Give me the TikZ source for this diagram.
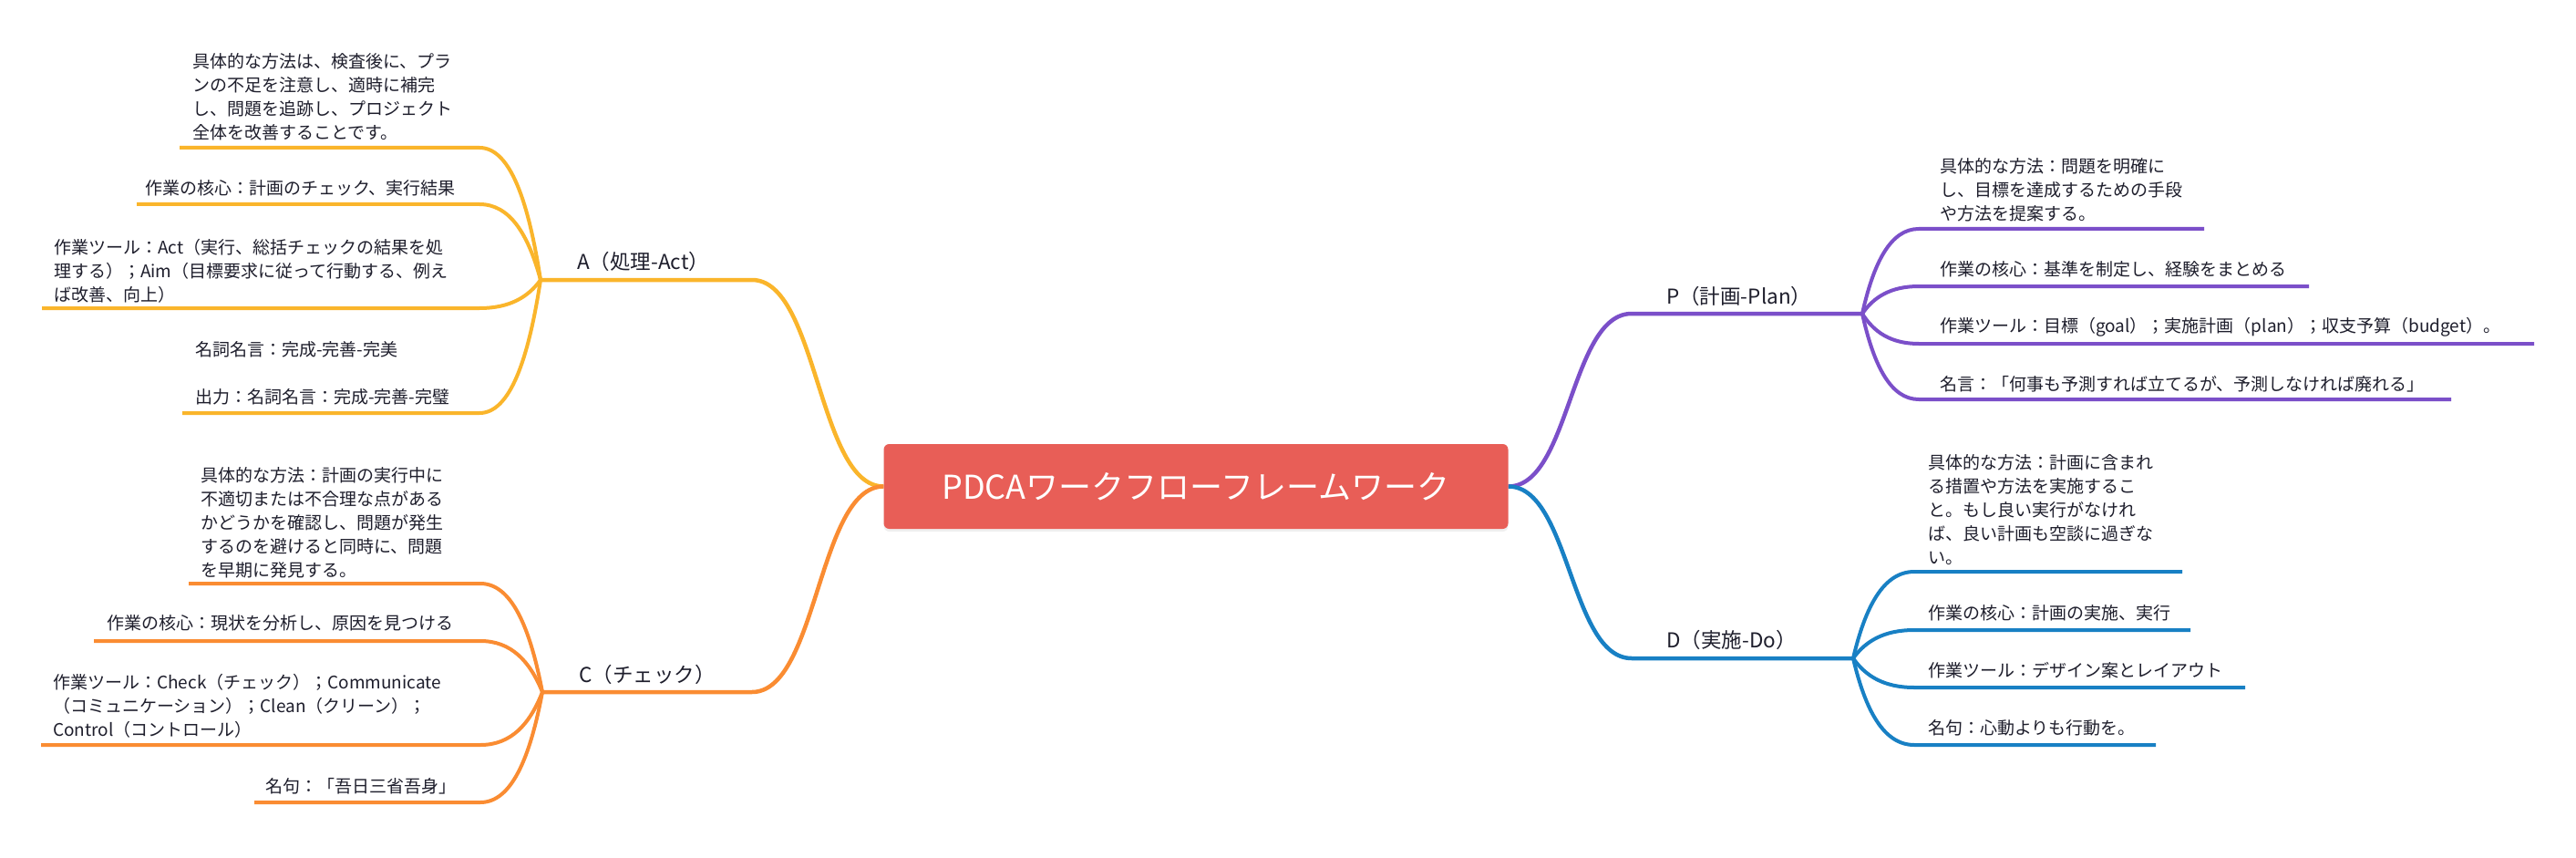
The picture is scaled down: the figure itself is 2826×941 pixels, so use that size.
\documentclass[tikz,border=0pt]{standalone}
\usepackage{fontspec}
\setmainfont{Noto Sans CJK JP}
\usetikzlibrary{calc,shadows}
\definecolor{cP}{HTML}{7B4FC9}
\definecolor{cD}{HTML}{1880C4}
\definecolor{cA}{HTML}{FAB52B}
\definecolor{cC}{HTML}{FA8C32}
\definecolor{cBox}{HTML}{E85E57}
\definecolor{cTxt}{HTML}{1E1E2C}
\pgfdeclarelayer{back}
\pgfdeclarelayer{bg}
\pgfsetlayers{back,bg,main}
\newcommand\twig[4]{\draw[#1] let \p1=(#2), \p2=(#3) in (#2) .. controls (\x1+0.2*\x2-0.2*\x1, \y1+0.6*\y2-0.6*\y1) and (0.5*\x1+0.5*\x2, \y2) .. (#3) -- (#4);}
\newcommand\limb[4]{\draw[#1] let \p1=(#2), \p2=(#3) in (#2) .. controls (0.5*\x1+0.5*\x2, \y1) and (0.5*\x1+0.5*\x2, \y2) .. (#3) -- (#4);}
\tikzset{
  ptxt/.style={font=\fontsize{19}{26}\selectfont, text=cTxt, align=left, inner sep=0pt, anchor=west},
  ltxt/.style={font=\fontsize{22.5}{28}\selectfont, text=cTxt, inner sep=0pt, anchor=west},
  mainline/.style={line width=4.5pt},
  subline/.style={line width=4pt},
  rootbox/.style={fill=cBox, rounded corners=6pt, minimum width=685pt, minimum height=93pt,
    text=white, font=\fontsize{36}{42}\selectfont, inner sep=0pt,
    drop shadow={opacity=0.12, shadow xshift=0pt, shadow yshift=-3pt}},
}
\begin{document}
\begin{tikzpicture}[x=1pt,y=-1pt]
\begin{pgfonlayer}{back}
\fill[white] (0,0) rectangle (2826,941);
\end{pgfonlayer}
\useasboundingbox (0,0) rectangle (2826,941);

\node[rootbox] (root) at (1312,533.5) {PDCAワークフローフレームワーク};

% branch coordinates
\coordinate (ps) at (1790,344); \coordinate (pf) at (2043,344);
\coordinate (ds) at (1790,722); \coordinate (df) at (2033,722);
\coordinate (as) at (825,307);  \coordinate (af) at (593,307);
\coordinate (cs) at (825,759);  \coordinate (cf) at (595,759);

% labels
\node[ltxt] (P) at (1828,325) {P（計画-Plan）};
\node[ltxt] (D) at (1828,702) {D（実施-Do）};
\node[ltxt] (A) at (633,287) {A（処理-Act）};
\node[ltxt] (C) at (635,740) {C（チェック）};

% P children
\node[ptxt] (p1) at (2128,208) {具体的な方法：問題を明確に\\し、目標を達成するための手段\\や方法を提案する。};
\node[ptxt] (p2) at (2128,295) {作業の核心：基準を制定し、経験をまとめる};
\node[ptxt] (p3) at (2128,359) {作業ツール：目標（goal）；実施計画（plan）；収支予算（budget）。};
\node[ptxt] (p4) at (2128,421) {名言：「何事も予測すれば立てるが、予測しなければ廃れる」};
\coordinate (p1s) at (2105,251); \coordinate (p1e) at (2418,251);
\coordinate (p2s) at (2105,314); \coordinate (p2e) at (2533,314);
\coordinate (p3s) at (2105,377); \coordinate (p3e) at (2780,377);
\coordinate (p4s) at (2105,438); \coordinate (p4e) at (2689,438);

% D children
\node[ptxt] (d1) at (2115,559.5) {具体的な方法：計画に含まれ\\る措置や方法を実施するこ\\と。もし良い実行がなけれ\\ば、良い計画も空談に過ぎな\\い。};
\node[ptxt] (d2) at (2115,672) {作業の核心：計画の実施、実行};
\node[ptxt] (d3) at (2115,735) {作業ツール：デザイン案とレイアウト};
\node[ptxt] (d4) at (2115,798) {名句：心動よりも行動を。};
\coordinate (d1s) at (2100,627); \coordinate (d1e) at (2394,627);
\coordinate (d2s) at (2100,691); \coordinate (d2e) at (2403,691);
\coordinate (d3s) at (2100,754); \coordinate (d3e) at (2463,754);
\coordinate (d4s) at (2100,817); \coordinate (d4e) at (2365,817);

% A children
\node[ptxt] (a1) at (211,106) {具体的な方法は、検査後に、プラ\\ンの不足を注意し、適時に補完\\し、問題を追跡し、プロジェクト\\全体を改善することです。};
\node[ptxt] (a2) at (159,206) {作業の核心：計画のチェック、実行結果};
\node[ptxt] (a3) at (59,297) {作業ツール：Act（実行、総括チェックの結果を処\\理する）；Aim（目標要求に従って行動する、例え\\ば改善、向上）};
\node[ptxt] (a4) at (214,409) {名詞名言：完成-完善-完美\\[26pt]出力：名詞名言：完成-完善-完璧};
\coordinate (a1s) at (526,162); \coordinate (a1e) at (197,162);
\coordinate (a2s) at (526,224); \coordinate (a2e) at (150,224);
\coordinate (a3s) at (526,338); \coordinate (a3e) at (46,338);
\coordinate (a4s) at (526,453); \coordinate (a4e) at (200,453);

% C children
\node[ptxt] (c1) at (220,573) {具体的な方法：計画の実行中に\\不適切または不合理な点がある\\かどうかを確認し、問題が発生\\するのを避けると同時に、問題\\を早期に発見する。};
\node[ptxt] (c2) at (117,683) {作業の核心：現状を分析し、原因を見つける};
\node[ptxt] (c3) at (58,774) {作業ツール：Check（チェック）；Communicate\\（コミュニケーション）；Clean（クリーン）；\\Control（コントロール）};
\node[ptxt] (c4) at (291,862) {名句：「吾日三省吾身」};
\coordinate (c1s) at (527,640); \coordinate (c1e) at (207,640);
\coordinate (c2s) at (527,703); \coordinate (c2e) at (103,703);
\coordinate (c3s) at (527,817); \coordinate (c3e) at (45,817);
\coordinate (c4s) at (527,880); \coordinate (c4e) at (279,880);

\begin{pgfonlayer}{bg}
\limb{draw=cP,mainline}{root.east}{ps}{pf}
\limb{draw=cD,mainline}{root.east}{ds}{df}
\limb{draw=cA,mainline}{root.west}{as}{af}
\limb{draw=cC,mainline}{root.west}{cs}{cf}
\twig{draw=cP,subline}{pf}{p1s}{p1e}
\twig{draw=cP,subline}{pf}{p2s}{p2e}
\twig{draw=cP,subline}{pf}{p3s}{p3e}
\twig{draw=cP,subline}{pf}{p4s}{p4e}
\twig{draw=cD,subline}{df}{d1s}{d1e}
\twig{draw=cD,subline}{df}{d2s}{d2e}
\twig{draw=cD,subline}{df}{d3s}{d3e}
\twig{draw=cD,subline}{df}{d4s}{d4e}
\twig{draw=cA,subline}{af}{a1s}{a1e}
\twig{draw=cA,subline}{af}{a2s}{a2e}
\twig{draw=cA,subline}{af}{a3s}{a3e}
\twig{draw=cA,subline}{af}{a4s}{a4e}
\twig{draw=cC,subline}{cf}{c1s}{c1e}
\twig{draw=cC,subline}{cf}{c2s}{c2e}
\twig{draw=cC,subline}{cf}{c3s}{c3e}
\twig{draw=cC,subline}{cf}{c4s}{c4e}
\end{pgfonlayer}
\end{tikzpicture}
\end{document}
